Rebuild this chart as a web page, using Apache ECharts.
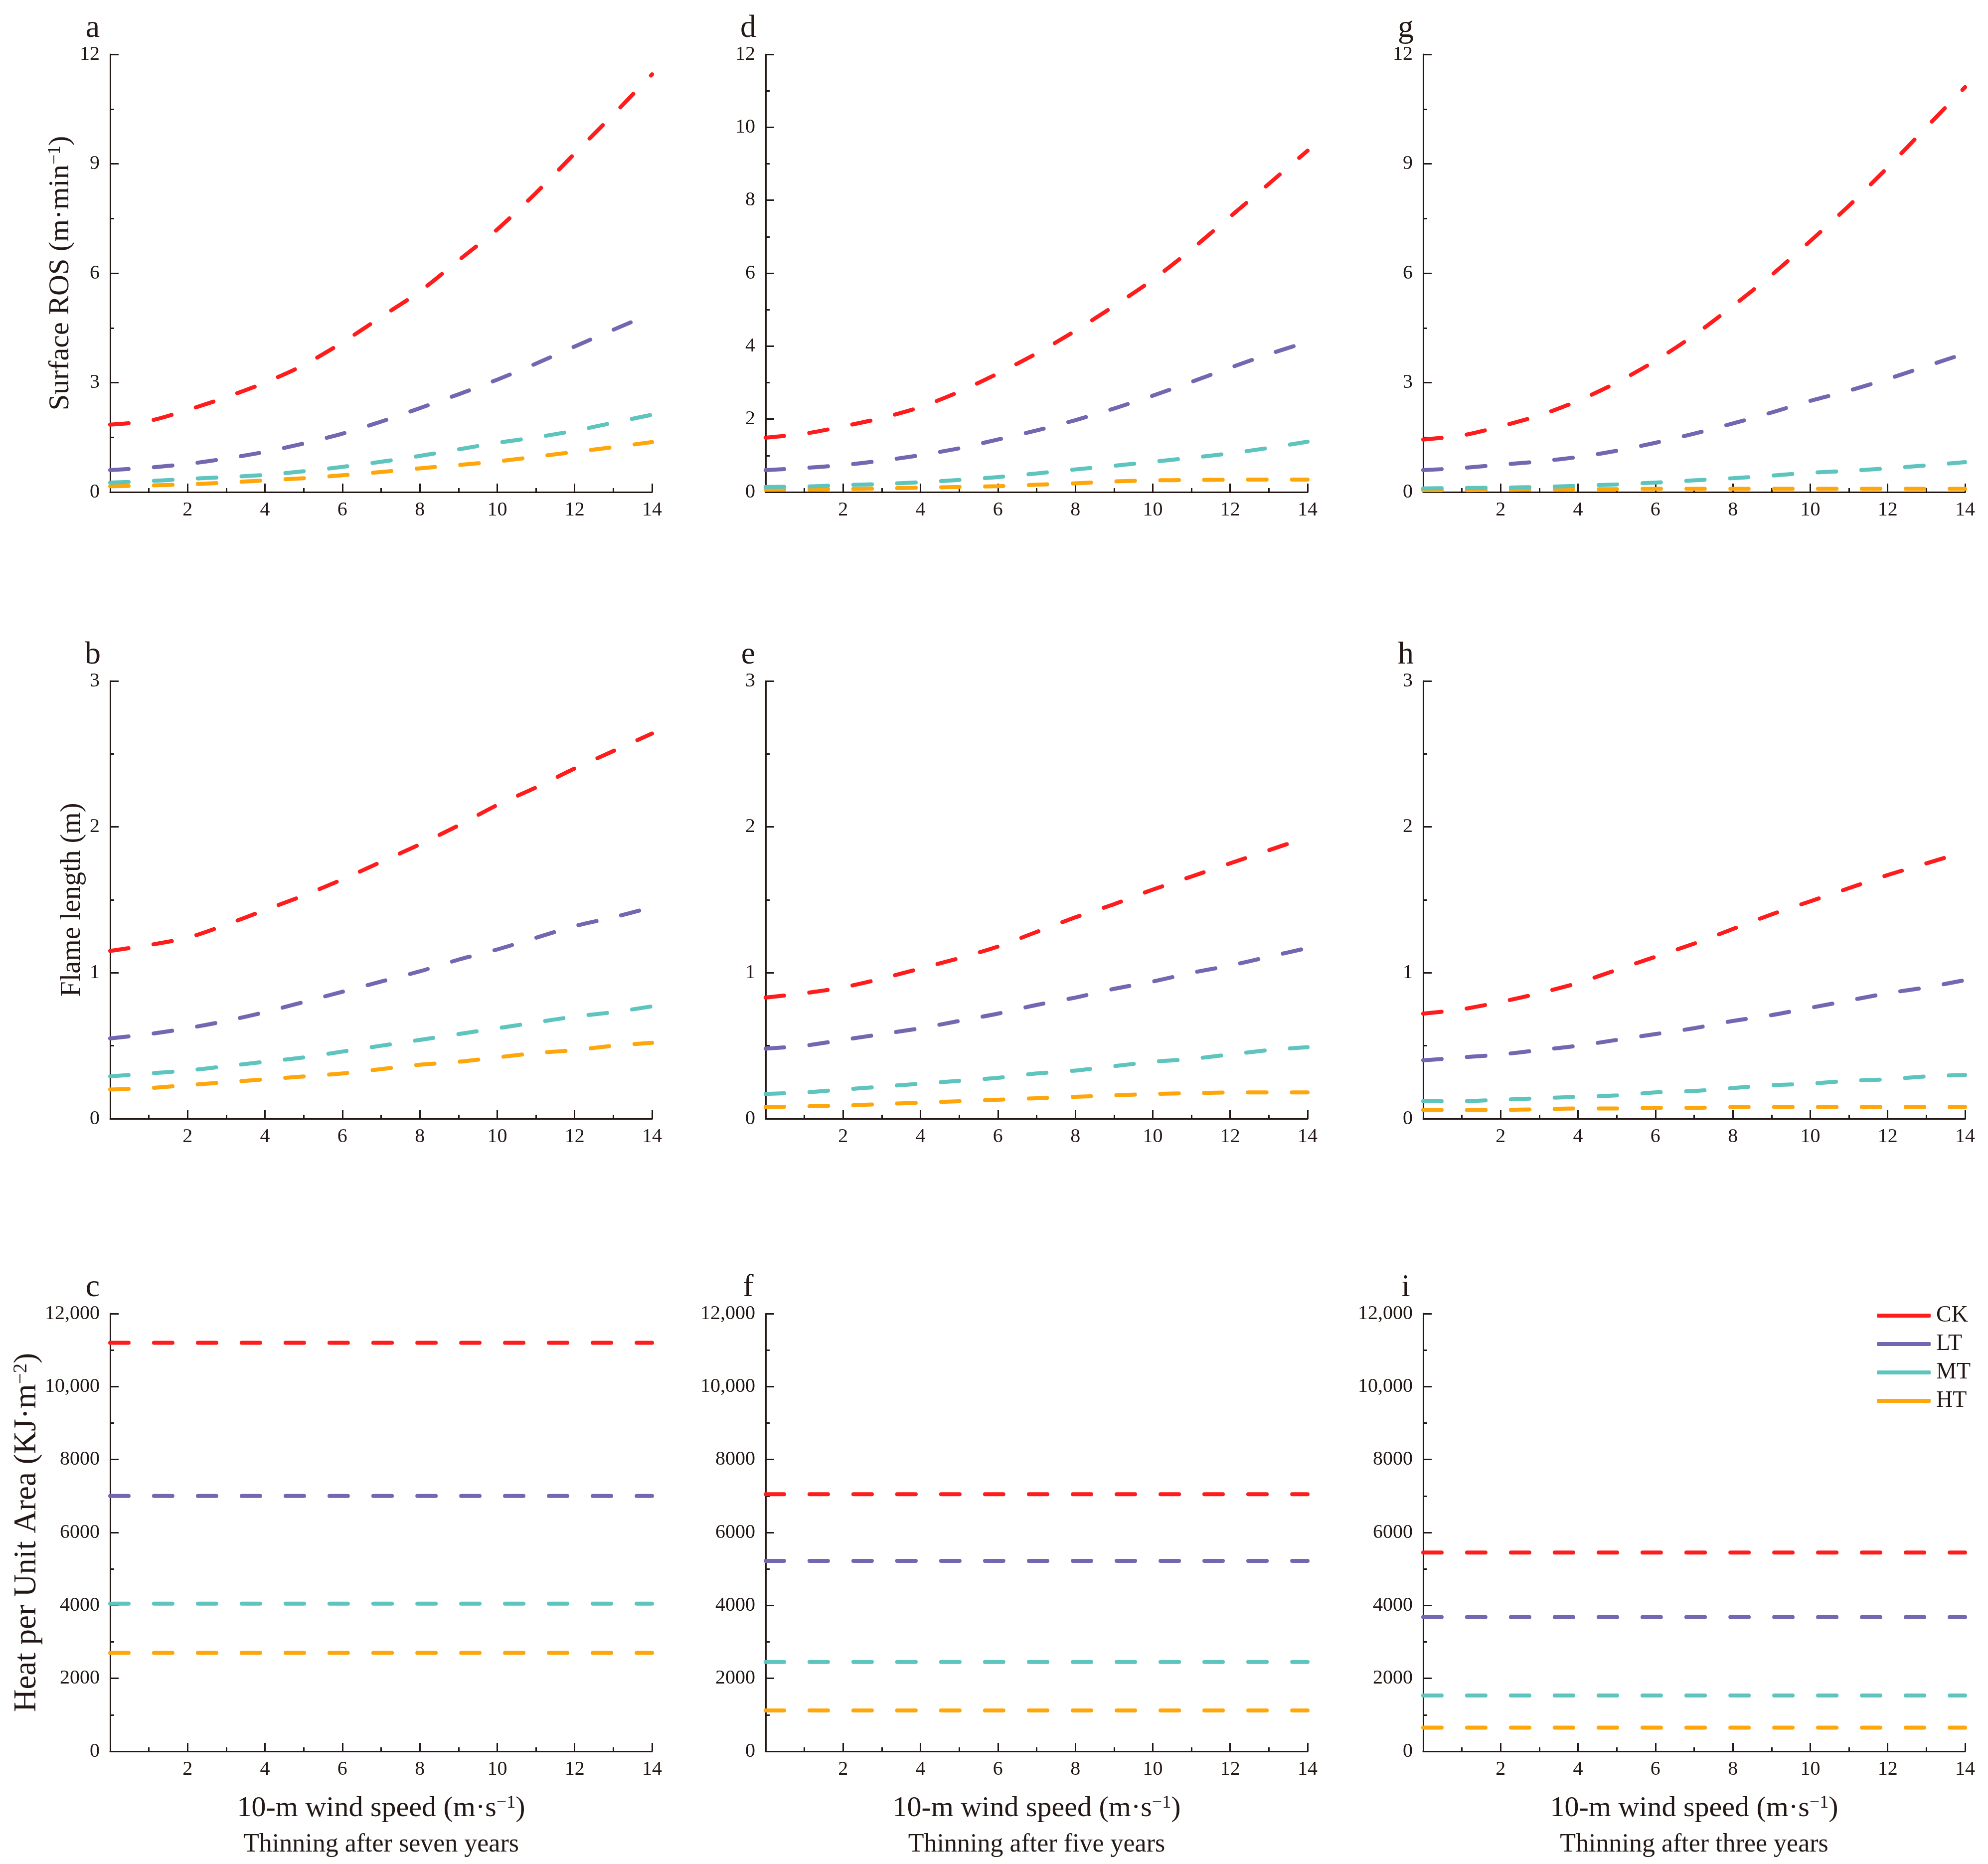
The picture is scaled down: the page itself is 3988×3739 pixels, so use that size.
<!DOCTYPE html>
<html><head><meta charset="utf-8">
<script src="https://cdn.jsdelivr.net/npm/echarts@6.0.0/dist/echarts.min.js"></script>
<style>html,body{margin:0;padding:0;background:#fff}#c{width:3988px;height:3739px}</style>
</head><body><div id="c"></div><script>
// ---------------- data ----------------
const windSpeed = [0, 1, 2, 3, 4, 5, 6, 7, 8, 9, 10, 11, 12, 13, 14];
const seriesNames = ['CK', 'LT', 'MT', 'HT'];
const xTickLabels = ['2', '4', '6', '8', '10', '12', '14'];

// Surface ROS (m·min-1): [CK, LT, MT, HT]
const rosSeven = [
  [1.85, 1.95, 2.25, 2.6, 3.0, 3.48, 4.1, 4.8, 5.5, 6.35, 7.2, 8.2, 9.28, 10.35, 11.45],
  [0.6, 0.67, 0.77, 0.92, 1.1, 1.33, 1.6, 1.93, 2.3, 2.68, 3.08, 3.52, 3.99, 4.45, 4.9],
  [0.26, 0.3, 0.36, 0.41, 0.47, 0.57, 0.69, 0.83, 0.99, 1.17, 1.35, 1.5, 1.68, 1.9, 2.12],
  [0.16, 0.18, 0.21, 0.26, 0.32, 0.38, 0.46, 0.55, 0.65, 0.74, 0.84, 0.97, 1.1, 1.23, 1.37]
];
const rosFive = [
  [1.49, 1.6, 1.8, 2.03, 2.33, 2.75, 3.25, 3.8, 4.42, 5.1, 5.82, 6.65, 7.55, 8.45, 9.36],
  [0.6, 0.66, 0.74, 0.86, 1.01, 1.2, 1.44, 1.69, 1.97, 2.29, 2.64, 3.02, 3.41, 3.78, 4.12],
  [0.14, 0.15, 0.19, 0.22, 0.27, 0.33, 0.41, 0.51, 0.62, 0.72, 0.83, 0.94, 1.06, 1.21, 1.38],
  [0.06, 0.07, 0.08, 0.1, 0.12, 0.14, 0.16, 0.2, 0.24, 0.29, 0.32, 0.33, 0.34, 0.34, 0.34]
];
const rosThree = [
  [1.44, 1.55, 1.8, 2.1, 2.5, 3.0, 3.6, 4.3, 5.1, 5.95, 6.88, 7.85, 8.9, 10.0, 11.1],
  [0.6, 0.66, 0.75, 0.84, 0.96, 1.13, 1.35, 1.6, 1.88, 2.18, 2.5, 2.78, 3.1, 3.45, 3.8],
  [0.1, 0.11, 0.12, 0.14, 0.17, 0.21, 0.26, 0.32, 0.38, 0.45, 0.53, 0.58, 0.65, 0.73, 0.82],
  [0.05, 0.05, 0.06, 0.07, 0.08, 0.08, 0.09, 0.09, 0.09, 0.09, 0.09, 0.09, 0.09, 0.09, 0.09]
];

// Flame length (m): [CK, LT, MT, HT]
const flameSeven = [
  [1.15, 1.19, 1.24, 1.33, 1.43, 1.53, 1.64, 1.76, 1.88, 2.01, 2.15, 2.27, 2.4, 2.52, 2.64],
  [0.55, 0.58, 0.62, 0.67, 0.73, 0.8, 0.87, 0.94, 1.01, 1.09, 1.16, 1.24, 1.32, 1.38, 1.45],
  [0.29, 0.31, 0.33, 0.36, 0.39, 0.42, 0.46, 0.5, 0.54, 0.58, 0.62, 0.66, 0.7, 0.73, 0.77],
  [0.2, 0.21, 0.23, 0.25, 0.27, 0.29, 0.31, 0.34, 0.37, 0.39, 0.42, 0.45, 0.47, 0.5, 0.52]
];
const flameFive = [
  [0.83, 0.86, 0.9, 0.96, 1.03, 1.1, 1.18, 1.28, 1.38, 1.47, 1.57, 1.66, 1.75, 1.84, 1.93],
  [0.48, 0.5, 0.54, 0.58, 0.62, 0.67, 0.72, 0.78, 0.83, 0.89, 0.94, 1.0, 1.05, 1.11, 1.17],
  [0.17, 0.18, 0.2, 0.22, 0.24, 0.26, 0.28, 0.31, 0.33, 0.36, 0.39, 0.41, 0.44, 0.47, 0.49],
  [0.08, 0.085, 0.09, 0.1, 0.11, 0.12, 0.13, 0.14, 0.15, 0.16, 0.17, 0.175, 0.18, 0.18, 0.18]
];
const flameThree = [
  [0.72, 0.75, 0.8, 0.86, 0.93, 1.02, 1.11, 1.2, 1.3, 1.4, 1.49, 1.58, 1.67, 1.75, 1.83],
  [0.4, 0.42, 0.44, 0.47, 0.5, 0.54, 0.58, 0.62, 0.67, 0.71, 0.76, 0.81, 0.86, 0.9, 0.95],
  [0.12, 0.12, 0.13, 0.14, 0.15, 0.16, 0.18, 0.19, 0.21, 0.23, 0.24, 0.26, 0.27, 0.29, 0.3],
  [0.06, 0.06, 0.06, 0.065, 0.07, 0.07, 0.075, 0.075, 0.08, 0.08, 0.08, 0.08, 0.08, 0.08, 0.08]
];

// Heat per unit area (KJ·m-2), constant over wind speed: [CK, LT, MT, HT]
const heatSeven = [11200, 7000, 4050, 2700];
const heatFive = [7050, 5220, 2450, 1120];
const heatThree = [5450, 3680, 1530, 650];

const panelLetters = ['a', 'b', 'c', 'd', 'e', 'f', 'g', 'h', 'i'];
const columnTitles = ['Thinning after seven years', 'Thinning after five years', 'Thinning after three years'];

// ---------------- styling / layout ----------------
const FONT = 'Liberation Serif';
const INK = '#231815';
const COLORS = ['#FF1C1C', '#7467B1', '#5EC4BE', '#FFA60A'];
const colLeft = [221, 1536, 2855];
const rowTop = [109, 1366, 2635];
const PW = 1087, PH = 878;

const panels = [
  { col: 0, row: 0, vals: rosSeven, max: 12, interval: 3 },
  { col: 0, row: 1, vals: flameSeven, max: 3, interval: 1 },
  { col: 0, row: 2, vals: heatSeven, max: 12000, interval: 2000, flat: true },
  { col: 1, row: 0, vals: rosFive, max: 12, interval: 2 },
  { col: 1, row: 1, vals: flameFive, max: 3, interval: 1 },
  { col: 1, row: 2, vals: heatFive, max: 12000, interval: 2000, flat: true },
  { col: 2, row: 0, vals: rosThree, max: 12, interval: 3 },
  { col: 2, row: 1, vals: flameThree, max: 3, interval: 1 },
  { col: 2, row: 2, vals: heatThree, max: 12000, interval: 2000, flat: true }
];

const yTitles = [
  { text: 'Surface ROS (m·min{sup|−1})', size: 58, gap: 70 },
  { text: 'Flame length (m)', size: 56, gap: 48 },
  { text: 'Heat per Unit Area (KJ·m{sup|−2})', size: 63, gap: 134 }
];

const grids = [], xAxes = [], yAxes = [], series = [], graphics = [];
const axisLine = { lineStyle: { color: INK, width: 3 } };
const tickStyle = { color: INK, width: 3 };

function fmtY(v) {
  if (v >= 10000) return String(v).replace(/\B(?=(\d{3})+(?!\d))/g, ',');
  return String(v);
}

panels.forEach((p, k) => {
  const left = colLeft[p.col], top = rowTop[p.row];
  grids.push({ left: left, top: top, width: PW, height: PH });
  const xa = {
    gridIndex: k, type: 'value', min: 0, max: 14, interval: 2,
    axisLine: axisLine,
    axisTick: { show: true, inside: true, length: 17, lineStyle: tickStyle },
    minorTick: { show: true, splitNumber: 2, length: 8, lineStyle: tickStyle },
    splitLine: { show: false }, minorSplitLine: { show: false },
    axisLabel: {
      formatter: v => (xTickLabels.indexOf(String(v)) >= 0 ? String(v) : ''),
      fontFamily: FONT, fontSize: 40, color: INK, margin: 16
    }
  };
  if (p.row === 2) {
    xa.name = '10-m wind speed (m·s{sup|−1})';
    xa.nameLocation = 'middle';
    xa.nameGap = 86;
    xa.nameTextStyle = { fontFamily: FONT, fontSize: 58, color: INK,
      rich: { sup: { fontFamily: FONT, fontSize: 36, color: INK, verticalAlign: 'top' } } };
  }
  xAxes.push(xa);
  const ya = {
    gridIndex: k, type: 'value', min: 0, max: p.max, interval: p.interval,
    axisLine: { show: true, lineStyle: { color: INK, width: 3 } },
    axisTick: { show: true, inside: true, length: 17, lineStyle: tickStyle },
    minorTick: { show: true, splitNumber: 2, length: 8, lineStyle: tickStyle },
    splitLine: { show: false }, minorSplitLine: { show: false },
    axisLabel: { formatter: fmtY, fontFamily: FONT, fontSize: 40, color: INK, margin: 21 }
  };
  if (p.col === 0) {
    const t = yTitles[p.row];
    ya.name = t.text;
    ya.nameLocation = 'middle';
    ya.nameRotate = 90;
    ya.nameGap = t.gap;
    ya.nameTextStyle = { fontFamily: FONT, fontSize: t.size, color: INK,
      rich: { sup: { fontFamily: FONT, fontSize: Math.round(t.size * 0.62), color: INK, verticalAlign: 'top' } } };
  }
  yAxes.push(ya);

  seriesNames.forEach((nm, s) => {
    let data;
    if (p.flat) {
      data = [[windSpeed[0], p.vals[s]], [windSpeed[windSpeed.length - 1], p.vals[s]]];
    } else {
      data = windSpeed.map((x, i) => [x, p.vals[s][i]]);
    }
    series.push({
      name: nm, type: 'line', xAxisIndex: k, yAxisIndex: k,
      data: data, smooth: 0.25, symbol: 'none', showSymbol: false,
      color: COLORS[s],
      lineStyle: { color: COLORS[s], width: 8, type: [37, 51], cap: 'round' },
      silent: true, z: 3 + (3 - s)
    });
  });

  graphics.push({
    type: 'text', x: left - 35, y: top - 52,
    style: { text: panelLetters[k], font: '64px "' + FONT + '"', fill: INK,
      align: 'center', verticalAlign: 'middle', textAlign: 'center', textVerticalAlign: 'middle' }
  });
});

columnTitles.forEach((t, c) => {
  graphics.push({
    type: 'text', x: colLeft[c] + PW / 2, y: 3700,
    style: { text: t, font: '52px "' + FONT + '"', fill: INK,
      align: 'center', verticalAlign: 'middle', textAlign: 'center', textVerticalAlign: 'middle' }
  });
});

const chart = echarts.init(document.getElementById('c'), null, { renderer: 'canvas' });
chart.setOption({
  backgroundColor: '#ffffff',
  animation: false,
  grid: grids,
  xAxis: xAxes,
  yAxis: yAxes,
  series: series,
  graphic: graphics,
  legend: {
    data: seriesNames, orient: 'vertical', left: 3760, top: 2611,
    itemWidth: 108, itemHeight: 8, itemGap: 11, icon: 'roundRect',
    textStyle: { fontFamily: FONT, fontSize: 46, color: INK, padding: [0, 0, 0, 6] }
  }
});
</script></body></html>
